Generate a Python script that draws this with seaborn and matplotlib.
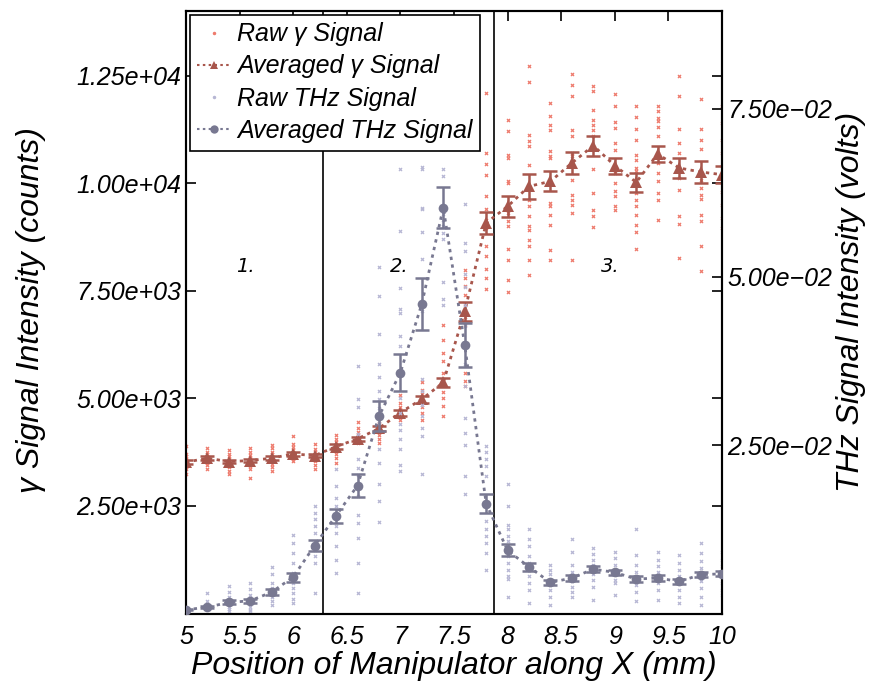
import numpy as np
import pandas as pd
import matplotlib
matplotlib.use("Agg")
import matplotlib.pyplot as plt
from matplotlib.lines import Line2D
from matplotlib.ticker import FuncFormatter
import seaborn as sns

# ---------------- data ----------------
positions = [5.0, 5.2, 5.4, 5.6, 5.8, 6.0, 6.2, 6.4, 6.6, 6.8, 7.0, 7.2, 7.4,
             7.6, 7.8, 8.0, 8.2, 8.4, 8.6, 8.8, 9.0, 9.2, 9.4, 9.6, 9.8, 10.0]

gamma_avg = [3516, 3609, 3530, 3554, 3609, 3709, 3670, 3879, 4058, 4300, 4670, 4980, 5368,
             7019, 9074, 9460, 9926, 10042, 10469, 10872, 10407, 10019, 10679, 10353, 10260, 10198]
gamma_err = [40, 40, 40, 40, 40, 40, 40, 50, 50, 60, 70, 80, 110,
             225, 264, 251, 291, 236, 260, 233, 186, 225, 194, 233, 248, 194]

thz_avg = [0.00055, 0.00095, 0.00164, 0.00189, 0.00318, 0.00542, 0.0101, 0.01454, 0.0190,
           0.0293, 0.0358, 0.0460, 0.0603, 0.0399, 0.01632, 0.00938, 0.0069, 0.00461, 0.00527,
           0.0066, 0.0061, 0.00512, 0.00527, 0.00476, 0.00576, 0.0059]
thz_err = [0.0001, 0.0002, 0.0003, 0.0003, 0.0004, 0.00067, 0.00087, 0.00104, 0.0017,
           0.0022, 0.0027, 0.0039, 0.0031, 0.0033, 0.00146, 0.00087, 0.0006, 0.0004, 0.0004,
           0.0004, 0.0004, 0.0004, 0.0004, 0.0004, 0.0004, 0.0004]

gamma_raw = [
    [3250, 3350, 3400, 3450, 3480, 3520, 3560, 3600, 3650, 3700, 3900],
    [3350, 3450, 3500, 3560, 3600, 3620, 3650, 3700, 3750, 3850],
    [3230, 3320, 3400, 3450, 3500, 3550, 3600, 3650, 3700, 3800],
    [3150, 3350, 3420, 3480, 3530, 3580, 3620, 3680, 3750, 3850],
    [3300, 3400, 3480, 3550, 3600, 3650, 3700, 3750, 3850, 3920],
    [3550, 3600, 3650, 3690, 3720, 3760, 3800, 3870, 3950, 4120],
    [3360, 3450, 3550, 3620, 3670, 3700, 3760, 3820, 3940],
    [3500, 3620, 3700, 3800, 3880, 3920, 3980, 4050, 4150],
    [3960, 4000, 4030, 4060, 4100, 4150, 4220, 4300, 4460],
    [3960, 4050, 4150, 4220, 4280, 4330, 4400, 4430],
    [4500, 4560, 4620, 4680, 4740, 4800, 4900, 5080],
    [4500, 4650, 4800, 4900, 5000, 5100, 5200, 5390],
    [4590, 4810, 5000, 5150, 5300, 5450, 5600, 5860, 6060, 6360, 6710],
    [5280, 5400, 5600, 6700, 6900, 7050, 7200, 7400, 7600, 7800, 7990],
    [7550, 7800, 8000, 8300, 8550, 8950, 9150, 9400, 9700, 10200, 10450, 10700, 12100],
    [7460, 7740, 8221, 8470, 8995, 9111, 9305, 9460, 10003, 10042, 10585, 10663, 11205, 11477],
    [7872, 8205, 8547, 8686, 8919, 9012, 9244, 9460, 9616, 9926, 10430, 10872, 10988, 11128, 12353, 12733],
    [8221, 8454, 9035, 9267, 9461, 9539, 10004, 10081, 10586, 10624, 10740, 11244, 11360, 11554, 11865],
    [8221, 9307, 9500, 9616, 9733, 10081, 10484, 10624, 10702, 11089, 11228, 12019, 12291, 12547],
    [8981, 9228, 9384, 9772, 10337, 11089, 11244, 11360, 11477, 11709, 12135, 12250],
    [9384, 9460, 9693, 9810, 10004, 10237, 10779, 10935, 11283, 11414, 11786, 12075],
    [8470, 8856, 9035, 9267, 9461, 9616, 9772, 10004, 10275, 10353, 10547, 10663, 11012, 11260, 11539, 11802],
    [9151, 9616, 9772, 10042, 10237, 10470, 10702, 11089, 11306, 11437, 11516, 11670, 11802],
    [8260, 9058, 9244, 9849, 10121, 10702, 10935, 11260, 12019, 12500],
    [7949, 8547, 9112, 9267, 9632, 9733, 9888, 10081, 10251, 10795, 11012, 11260, 11958],
    [8950, 9200, 9500, 9800, 10100, 10400, 10700, 11000, 11400, 11800],
]

thz_raw = [
    [0.0003, 0.0005, 0.0006, 0.0008],
    [0.0031, 0.0018, 0.0012, 0.0010, 0.0008, 0.0006],
    [0.0041, 0.0032, 0.0025, 0.0018, 0.0014, 0.0010, 0.0006, 0.0003],
    [0.0046, 0.0037, 0.0028, 0.0020, 0.0015, 0.0010, 0.0005, 0.0003],
    [0.0069, 0.0058, 0.0045, 0.0038, 0.0030, 0.0025, 0.0018, 0.0013],
    [0.0117, 0.0105, 0.0090, 0.0075, 0.0060, 0.0052, 0.0045, 0.0038, 0.0030, 0.0022, 0.0016],
    [0.0160, 0.0150, 0.0140, 0.0130, 0.0120, 0.0105, 0.0095, 0.0085, 0.0075, 0.0031],
    [0.0214, 0.0190, 0.0172, 0.0160, 0.0150, 0.0140, 0.0130, 0.0120, 0.0100, 0.0080, 0.0060],
    [0.0368, 0.0319, 0.0307, 0.0266, 0.0229, 0.0216, 0.0206, 0.0174, 0.0147, 0.0135, 0.0112, 0.0075, 0.0031],
    [0.0515, 0.0472, 0.0415, 0.0371, 0.0351, 0.0331, 0.0318, 0.0306, 0.0283, 0.0244, 0.0224, 0.0192, 0.0167, 0.0136],
    [0.0660, 0.0568, 0.0484, 0.0452, 0.0447, 0.0412, 0.0397, 0.0320, 0.0298, 0.0281, 0.0273, 0.0259, 0.0244, 0.0220, 0.0211],
    [0.0663, 0.0660, 0.0603, 0.0601, 0.0566, 0.0526, 0.0449, 0.0348, 0.0330, 0.0310, 0.0293, 0.0276, 0.0263, 0.0207],
    [0.0690, 0.0660, 0.0650, 0.0593, 0.0585, 0.0575, 0.0565, 0.0556, 0.0492, 0.0467, 0.0459],
    [0.0608, 0.0551, 0.0539, 0.0504, 0.0485, 0.0459, 0.0427, 0.0400, 0.0370, 0.0338, 0.0291, 0.0268, 0.0251, 0.0204, 0.0177],
    [0.0249, 0.0240, 0.0230, 0.0219, 0.0204, 0.0137, 0.0125, 0.0115, 0.0105, 0.0090, 0.0064],
    [0.0192, 0.0159, 0.0132, 0.0125, 0.0115, 0.0107, 0.0085, 0.0075, 0.0065, 0.0055, 0.0051, 0.0024],
    [0.0125, 0.0110, 0.0100, 0.0085, 0.0075, 0.0065, 0.0055, 0.0045, 0.0035, 0.0016],
    [0.0072, 0.0065, 0.0058, 0.0050, 0.0042, 0.0035, 0.0025, 0.0013],
    [0.0110, 0.0092, 0.0072, 0.0062, 0.0055, 0.0048, 0.0040, 0.0032, 0.0025],
    [0.0097, 0.0088, 0.0080, 0.0072, 0.0065, 0.0058, 0.0050, 0.0040, 0.0020],
    [0.0092, 0.0082, 0.0072, 0.0065, 0.0058, 0.0050, 0.0045, 0.0028],
    [0.0125, 0.0087, 0.0072, 0.0062, 0.0052, 0.0042, 0.0032, 0.0018],
    [0.0092, 0.0080, 0.0070, 0.0062, 0.0055, 0.0045, 0.0035, 0.0020],
    [0.0087, 0.0075, 0.0065, 0.0055, 0.0045, 0.0035, 0.0025, 0.0015],
    [0.0105, 0.0090, 0.0078, 0.0068, 0.0058, 0.0048, 0.0038, 0.0025, 0.0013],
    [0.0092, 0.0080, 0.0070, 0.0062, 0.0055, 0.0045, 0.0035, 0.0028],
]

region_boundaries = [6.28, 7.87]
region_labels = ["1.", "2.", "3."]
region_label_x = [5.555, 6.99, 8.96]
region_label_y = 8065

legend_labels = ["Raw \u03b3 Signal", "Averaged \u03b3 Signal", "Raw THz Signal", "Averaged THz Signal"]
x_ticks = [5, 5.5, 6, 6.5, 7, 7.5, 8, 8.5, 9, 9.5, 10]
left_ticks = [2500, 5000, 7500, 10000, 12500]
right_ticks = [0.025, 0.05, 0.075]

# ---------------- style ----------------
sns.set_style("white")
plt.rcParams['font.family'] = ['Liberation Sans', 'DejaVu Sans']
plt.rcParams['font.style'] = 'italic'
for k in ['text.color', 'axes.labelcolor', 'xtick.color', 'ytick.color', 'axes.edgecolor']:
    plt.rcParams[k] = 'black'

c_raw_g = "#ee7b6d"
c_avg_g = "#a8564c"
c_raw_t = "#b7b7d4"
c_avg_t = "#787891"

g_df = pd.DataFrame({"x": np.repeat(positions, [len(v) for v in gamma_raw]),
                     "y": np.concatenate([np.array(v, float) for v in gamma_raw])})
t_df = pd.DataFrame({"x": np.repeat(positions, [len(v) for v in thz_raw]),
                     "y": np.concatenate([np.array(v, float) for v in thz_raw])})

fig = plt.figure(figsize=(8.71, 6.89), dpi=100)
ax = fig.add_axes([186/871, 1-613.5/689, (722-186)/871, (613.5-11)/689])
ax2 = ax.twinx()

# gamma on left axis
sns.scatterplot(data=g_df, x="x", y="y", ax=ax, marker="x", s=5, color=c_raw_g,
                linewidth=0.9, legend=False, zorder=2)
ax.errorbar(positions, gamma_avg, yerr=gamma_err, fmt="none", ecolor=c_avg_g,
            elinewidth=1.8, capsize=5, capthick=1.8, zorder=4)
sns.lineplot(x=positions, y=gamma_avg, ax=ax, color=c_avg_g, marker="^", markersize=8,
             markeredgewidth=0, linestyle=(0, (1.2, 1.6)), linewidth=2.0, zorder=5,
             estimator=None, sort=False)

# THz on right axis
sns.scatterplot(data=t_df, x="x", y="y", ax=ax2, marker="x", s=5, color=c_raw_t,
                linewidth=0.9, legend=False, zorder=2)
ax2.errorbar(positions, thz_avg, yerr=thz_err, fmt="none", ecolor=c_avg_t,
             elinewidth=1.8, capsize=5, capthick=1.8, zorder=4)
sns.lineplot(x=positions, y=thz_avg, ax=ax2, color=c_avg_t, marker="o", markersize=7,
             markeredgewidth=0, linestyle=(0, (1.2, 1.6)), linewidth=2.0, zorder=5,
             estimator=None, sort=False)

for xb in region_boundaries:
    ax.axvline(xb, color="black", linewidth=1.2, zorder=1)
for lx, lt in zip(region_label_x, region_labels):
    ax.text(lx, region_label_y, lt, family="DejaVu Sans", style="italic", fontsize=14,
            ha="center", va="center", color="black")

ax.set_xlim(5, 10)
ax.set_ylim(0, 14000)
ax2.set_ylim(0, 0.0895)
ax.set_xticks(x_ticks)
ax.set_xticklabels([f"{t:g}" for t in x_ticks])
ax.set_yticks(left_ticks)
ax2.set_yticks(right_ticks)

def sci(v, pos):
    return ("%.2e" % v).replace("-", "\u2212")

ax.yaxis.set_major_formatter(FuncFormatter(sci))
ax2.yaxis.set_major_formatter(FuncFormatter(sci))

ax.set_xlabel("Position of Manipulator along X (mm)", fontsize=23, labelpad=2)
ax.set_ylabel("\u03b3 Signal Intensity (counts)", fontsize=23, va="center")
ax2.set_ylabel("THz Signal Intensity (volts)", fontsize=23, va="center", rotation=90)
ax.yaxis.set_label_coords(-0.289, 0.504)
ax2.yaxis.set_label_coords(1.240, 0.517)

ax.tick_params(axis="both", direction="in", length=7, width=1.2, labelsize=18,
               top=True, right=True, colors="black")
ax.tick_params(axis="x", pad=8)
ax2.tick_params(axis="y", direction="in", length=7, width=1.2, labelsize=18, pad=4,
                colors="black")
for a in (ax, ax2):
    for s in a.spines.values():
        s.set_color("black")
        s.set_linewidth(1.5)

handles = [
    Line2D([], [], color=c_raw_g, marker=".", markersize=3, linestyle="none"),
    Line2D([], [], color=c_avg_g, marker="^", markersize=6, markeredgewidth=0,
           linestyle=(0, (1.2, 1.6)), linewidth=1.5),
    Line2D([], [], color=c_raw_t, marker=".", markersize=3, linestyle="none"),
    Line2D([], [], color=c_avg_t, marker="o", markersize=6, markeredgewidth=0,
           linestyle=(0, (1.2, 1.6)), linewidth=1.5),
]
leg = ax2.legend(handles, legend_labels, loc="upper left", bbox_to_anchor=(0, 1),
                 borderaxespad=0.15, fontsize=18, frameon=True, fancybox=False,
                 framealpha=1, edgecolor="black", handlelength=1.35, handletextpad=0.25,
                 labelspacing=0.33, borderpad=0.3)
leg.get_frame().set_linewidth(1.2)
leg.set_zorder(10)

fig.savefig("out.png", dpi=100)
